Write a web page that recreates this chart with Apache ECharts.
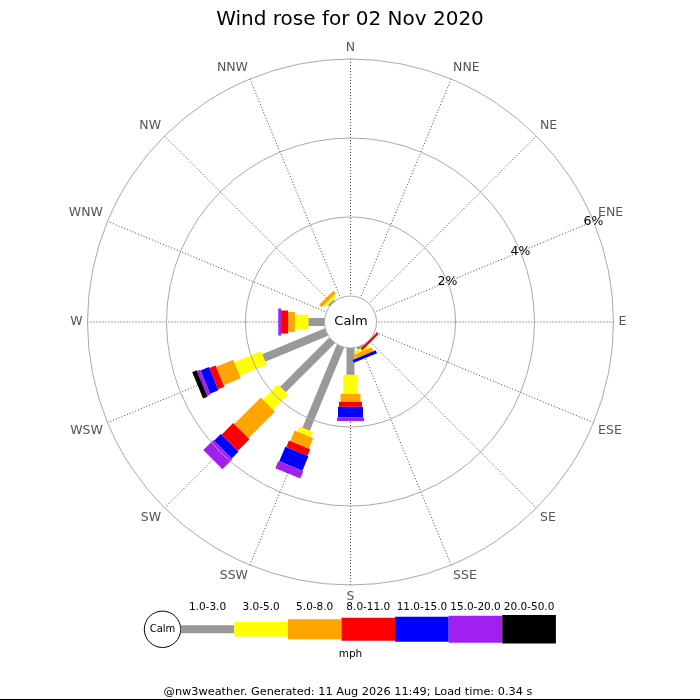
<!DOCTYPE html>
<html>
<head>
<meta charset="utf-8">
<title>Wind rose</title>
<script src="https://cdn.jsdelivr.net/npm/echarts@6/dist/echarts.min.js"></script>
<style>
    html, body { margin: 0; padding: 0; background: #fff; }
    #rose { width: 700px; height: 700px; }
</style>
</head>
<body>
<div id="rose"></div>
<script>
    // directions, clockwise from N
    var dirs = ['N','NNE','NE','ENE','E','ESE','SE','SSE','S','SSW','SW','WSW','W','WNW','NW','NNW'];
    // speed bins (mph)
    var speedBins = ['1.0-3.0','3.0-5.0','5.0-8.0','8.0-11.0','11.0-15.0','15.0-20.0','20.0-50.0'];
    var binColors = ['#999999','#ffff00','#ffa500','#ff0000','#0000ff','#a020f0','#000000'];
    // percent of time per direction for each bin
    var pct1to3   = [0,0,0,0,0,0,0,   0.06,0.68,2.28,1.76,1.72,0.41,0,0.05,0];
    var pct3to5   = [0,0,0,0,0,0,0,   0.08,0.48,0.14,0.54,0.73,0.34,0,0.07,0];
    var pct5to8   = [0,0,0,0,0,0,0,   0.11,0.20,0.29,0.95,0.47,0.17,0,0.09,0];
    var pct8to11  = [0,0,0,0,0,0,0.06,0,   0.13,0.18,0.42,0.17,0.18,0,0,   0];
    var pct11to15 = [0,0,0,0,0,0,0,   0.08,0.27,0.40,0.24,0.23,0,   0,0,   0];
    var pct15to20 = [0,0,0,0,0,0,0,   0,   0.09,0.20,0.36,0.09,0.07,0,0,   0];
    var pct20to50 = [0,0,0,0,0,0,0,   0,   0,   0,   0,   0.12,0,   0,0,   0];
    var radiusTicks = [0, 2, 4, 6];

    var bins = [pct1to3, pct3to5, pct5to8, pct8to11, pct11to15, pct15to20, pct20to50];
    var barWidths = [8, 14.5, 20, 23, 25, 27, 28.5];
    var rMax = radiusTicks[radiusTicks.length - 1];
    var font = 'DejaVu Sans';

    // angle axis runs clockwise starting at ENE, so the % labels sit on that spoke
    function angleOf(i){
        return (i * 22.5 - 67.5 + 360) % 360;
    }

    function makeSeries(k){
        var data = [];
        for (var i = 0; i < dirs.length; i++) {
            var v = bins[k][i];
            if (!v) continue;
            var base = 0;
            for (var j = 0; j < k; j++) base += bins[j][i];
            data.push([base + v, angleOf(i), base]);
        }
        var w = barWidths[k];
        return {
            type: 'custom',
            name: speedBins[k],
            coordinateSystem: 'polar',
            encode: { radius: 0, angle: 1 },
            silent: true,
            data: data,
            renderItem: function(params, api){
                var ang = api.value(1), r0 = api.value(2), r1 = api.value(0);
                var c0 = api.coord([0, ang]), cm = api.coord([rMax, ang]);
                var ux = cm[0] - c0[0], uy = cm[1] - c0[1];
                var len = Math.sqrt(ux * ux + uy * uy);
                ux /= len; uy /= len;
                var nx = -uy * w / 2, ny = ux * w / 2;
                var p0 = api.coord([r0, ang]), p1 = api.coord([r1, ang]);
                return {
                    type: 'polygon',
                    shape: { points: [
                        [p0[0] + nx, p0[1] + ny],
                        [p1[0] + nx, p1[1] + ny],
                        [p1[0] - nx, p1[1] - ny],
                        [p0[0] - nx, p0[1] - ny]
                    ] },
                    style: { fill: binColors[k] }
                };
            }
        };
    }

    // legend at the bottom
    var legendGraphics = [];
    var legX = 180.7, legY = 629.3, segW = 53.6;
    legendGraphics.push({
        type: 'circle', shape: { cx: 162.5, cy: legY, r: 18.2 },
        style: { fill: '#fff', stroke: '#000', lineWidth: 1 }
    });
    legendGraphics.push({
        type: 'text', x: 162.5, y: legY,
        style: { text: 'Calm', font: '10px "' + font + '"', fill: '#000', align: 'center', verticalAlign: 'middle' }
    });
    speedBins.forEach(function(lbl, k){
        var h = barWidths[k];
        legendGraphics.push({
            type: 'rect', shape: { x: legX + k * segW, y: legY - h / 2, width: segW, height: h },
            style: { fill: binColors[k] }
        });
        legendGraphics.push({
            type: 'text', x: legX + k * segW + segW / 2, y: 607,
            style: { text: lbl, font: '10.5px "' + font + '"', fill: '#000', align: 'center', verticalAlign: 'middle' }
        });
    });
    legendGraphics.push({
        type: 'text', x: 350.5, y: 654,
        style: { text: 'mph', font: '10.5px "' + font + '"', fill: '#000', align: 'center', verticalAlign: 'middle' }
    });
    legendGraphics.push({
        type: 'text', x: 348, y: 692.5,
        style: { text: '@nw3weather. Generated: 11 Aug 2026 11:49; Load time: 0.34 s', font: '11.3px "' + font + '"', fill: '#000', align: 'center', verticalAlign: 'middle' }
    });
    legendGraphics.push({
        type: 'line', shape: { x1: 0, y1: 699.5, x2: 700, y2: 699.5 },
        style: { stroke: '#000', lineWidth: 1 }
    });
    // calm label in the middle
    legendGraphics.push({
        type: 'text', x: 351, y: 322,
        style: { text: 'Calm', font: '13px "' + font + '"', fill: '#000', align: 'center', verticalAlign: 'middle' },
        z: 100
    });

    var chart = echarts.init(document.getElementById('rose'), null, { renderer: 'canvas' });
    var option = {
        animation: false,
        backgroundColor: '#fff',
        textStyle: { fontFamily: font },
        title: {
            text: 'Wind rose for 02 Nov 2020',
            left: 'center',
            top: 5,
            textStyle: { fontSize: 20, fontWeight: 'normal', color: '#000', fontFamily: font }
        },
        polar: {
            center: [350.5, 322],
            radius: [26, 263]
        },
        angleAxis: {
            type: 'value',
            min: 0,
            max: 360,
            interval: 22.5,
            startAngle: 22.5,
            clockwise: true,
            // outer ring comes from the radius split line at 6%
            axisLine: { show: false },
            axisTick: { show: false },
            axisLabel: {
                margin: 5,
                fontSize: 12.5,
                color: '#555',
                fontFamily: font,
                formatter: function(v){
                    if (v >= 360) return '';
                    return dirs[Math.round((v + 67.5) / 22.5) % 16];
                }
            },
            splitLine: { show: true, lineStyle: { color: '#444', width: 1, type: [1, 2] } }
        },
        radiusAxis: {
            type: 'value',
            min: radiusTicks[0],
            max: rMax,
            interval: radiusTicks[1] - radiusTicks[0],
            axisLine: { show: false },
            axisTick: { show: false },
            axisLabel: {
                margin: 0,
                rotate: 0,
                align: 'center',
                verticalAlign: 'middle',
                fontSize: 12.5,
                color: '#000',
                fontFamily: font,
                formatter: function(v){ return v ? v + '%' : ''; }
            },
            splitLine: { show: true, lineStyle: { color: '#aaa', width: 1 } },
            z: 10
        },
        graphic: legendGraphics,
        series: bins.map(function(b, k){ return makeSeries(k); })
    };
    chart.setOption(option);
</script>
</body>
</html>
